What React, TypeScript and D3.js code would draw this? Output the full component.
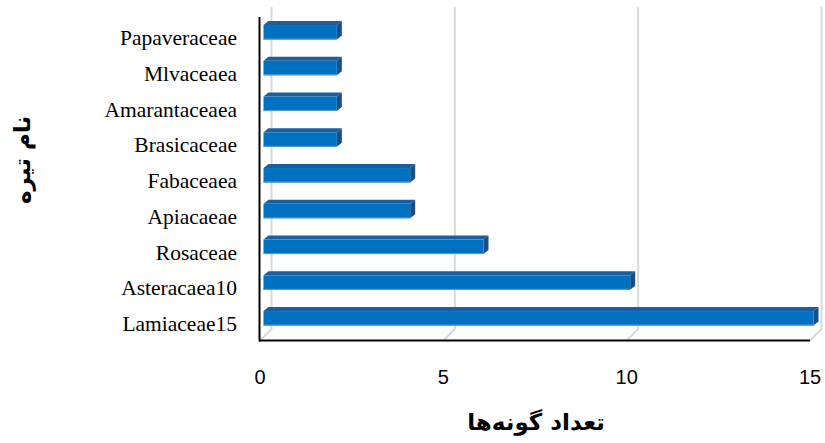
import React from "react";
import * as d3 from "d3";

const categories = [
  "Papaveraceae",
  "Mlvaceaea",
  "Amarantaceaea",
  "Brasicaceae",
  "Fabaceaea",
  "Apiacaeae",
  "Rosaceae",
  "Asteracaea10",
  "Lamiaceae15",
];
const values = [2, 2, 2, 2, 4, 4, 6, 10, 15];
const xTicks = [0, 5, 10, 15];
const xTitle = "تعداد گونه‌ها";
const yTitle = "نام تیره";

const W = 825;
const H = 443;

export default function App() {
  const x = d3.scaleLinear().domain([0, 15]).range([260, 810]);
  const y = d3
    .scaleBand<string>()
    .domain(categories)
    .range([14.3, 336.3])
    .paddingInner(0.594)
    .paddingOuter(0.3);

  const floorY = 340.5;
  const depth = 11.5; // wall depth offset
  const topY = 7;
  const barShift = 3.5; // bars sit slightly behind the front plane
  const bd = 5; // bar depth (x)
  const bdy = 4; // bar depth (y)

  return (
    <svg
      width={W}
      height={H}
      style={{ position: "absolute", left: 0, top: 0, background: "#fff" }}
    >
      {/* gridlines on back wall and floor */}
      {xTicks.map((t) => {
        const fx = x(t);
        const bx = fx + depth;
        return (
          <polyline
            key={"g" + t}
            points={`${fx},${floorY} ${bx},${floorY - depth} ${bx},${topY}`}
            fill="none"
            stroke="#d9d9d9"
            strokeWidth={2}
          />
        );
      })}

      {/* bars */}
      {categories.map((c, i) => {
        const v = values[i];
        const xl = x(0) + barShift;
        const xr = x(v) + barShift;
        const yt = y(c) as number;
        const yb = yt + y.bandwidth();
        return (
          <g key={c}>
            <polygon
              points={`${xl},${yt} ${xl + bd},${yt - bdy} ${xr + bd},${yt - bdy} ${xr},${yt}`}
              fill="#1f5e9c"
            />
            <polygon
              points={`${xr},${yt} ${xr + bd},${yt - bdy} ${xr + bd},${yb - bdy} ${xr},${yb}`}
              fill="#174f86"
            />
            <rect x={xl} y={yt} width={xr - xl} height={yb - yt} fill="#0070c0" />
            <line
              x1={xl}
              x2={xr}
              y1={yb - 0.5}
              y2={yb - 0.5}
              stroke="#5b9bd5"
              strokeWidth={1}
            />
          </g>
        );
      })}

      {/* axes */}
      <line x1={259.5} x2={259.5} y1={17} y2={floorY + 1} stroke="#000" strokeWidth={2} />
      <line x1={259} x2={x(15)} y1={floorY} y2={floorY} stroke="#000" strokeWidth={2} />

      {/* category labels */}
      {categories.map((c) => (
        <text
          key={"l" + c}
          x={237}
          y={(y(c) as number) + 20}
          textAnchor="end"
          fontFamily="'Liberation Serif', 'Times New Roman', serif"
          fontSize={21.5}
          fill="#000"
        >
          {c}
        </text>
      ))}

      {/* tick labels */}
      {xTicks.map((t) => (
        <text
          key={"t" + t}
          x={x(t)}
          y={384}
          textAnchor="middle"
          fontFamily="'Liberation Sans', Arial, sans-serif"
          fontSize={20}
          fill="#000"
        >
          {t}
        </text>
      ))}

      {/* axis titles */}
      <text
        x={536}
        y={430}
        textAnchor="middle"
        direction="rtl"
        fontFamily="'DejaVu Sans', sans-serif"
        fontWeight="bold"
        fontSize={23}
        fill="#000"
      >
        {xTitle}
      </text>
      <text
        transform={`translate(30, 160) rotate(-90)`}
        textAnchor="middle"
        direction="rtl"
        fontFamily="'DejaVu Sans', sans-serif"
        fontWeight="bold"
        fontSize={23}
        fill="#000"
      >
        {yTitle}
      </text>
    </svg>
  );
}
